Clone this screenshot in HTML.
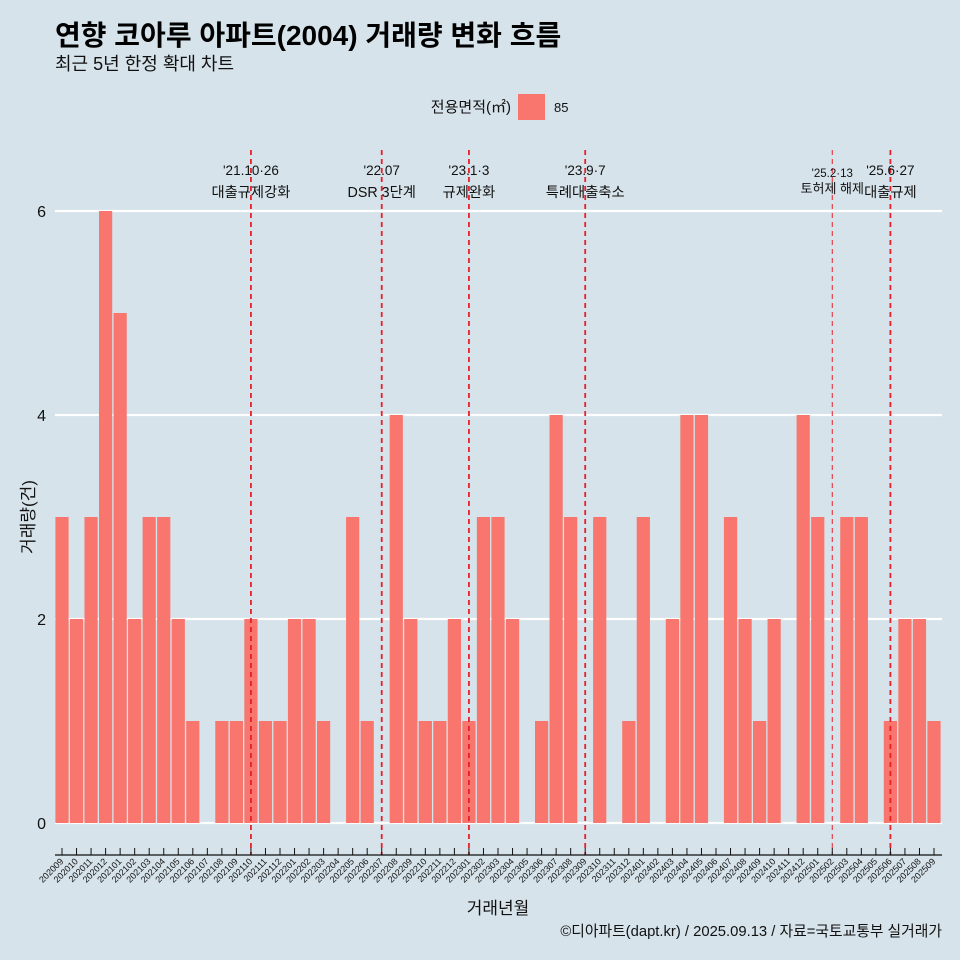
<!DOCTYPE html>
<html><head><meta charset="utf-8">
<style>
body{margin:0;background:#d6e3ea;}
svg{display:block;font-family:"Liberation Sans","Noto Sans CJK KR",sans-serif;}
</style></head>
<body>
<svg id="chart" width="960" height="960" viewBox="0 0 960 960">
<rect width="960" height="960" fill="#d6e3ea"/>
<text x="55" y="45" font-size="28" font-weight="bold" fill="#000">연향 코아루 아파트(2004) 거래량 변화 흐름</text>
<text x="55" y="70" font-size="18" fill="#111">최근 5년 한정 확대 차트</text>
<g>
<text x="511" y="112" font-size="15" text-anchor="end" fill="#111">전용면적(㎡)</text>
<rect x="518" y="94" width="27" height="26" fill="#f8766d"/>
<text x="554" y="112" font-size="13" fill="#111">85</text>
</g>
<g id="grid"></g><g id="bars"></g><g id="events"></g><g id="axes"></g>
<text x="34" y="517" font-size="17" fill="#111" text-anchor="middle" transform="rotate(-90 34 517)">거래량(건)</text>
<text x="498" y="914" font-size="17" fill="#111" text-anchor="middle">거래년월</text>
<text x="942" y="936" font-size="14.8" fill="#111" text-anchor="end">©디아파트(dapt.kr) / 2025.09.13 / 자료=국토교통부 실거래가</text>
</svg>
<script>
const months=["202009","202010","202011","202012","202101","202102","202103","202104","202105","202106","202107","202108","202109","202110","202111","202112","202201","202202","202203","202204","202205","202206","202207","202208","202209","202210","202211","202212","202301","202302","202303","202304","202305","202306","202307","202308","202309","202310","202311","202312","202401","202402","202403","202404","202405","202406","202407","202408","202409","202410","202411","202412","202501","202502","202503","202504","202505","202506","202507","202508","202509"];
const counts=[3,2,3,6,5,2,3,3,2,1,0,1,1,2,1,1,2,2,1,0,3,1,0,4,2,1,1,2,1,3,3,2,0,1,4,3,0,3,0,1,3,0,2,4,4,0,3,2,1,2,0,4,3,0,3,3,0,1,2,2,1];
const yTicks=[0,2,4,6];
const eventMonths=["202110","202207","202301","202309","202502","202506"];
const eventDates=["'21.10·26","'22.07","'23.1·3","'23.9·7","'25.2·13","'25.6·27"];
const eventLabels=["대출규제강화","DSR 3단계","규제완화","특례대출축소","토허제 해제","대출규제"];

const NS="http://www.w3.org/2000/svg";
const x0=62,step=(934-62)/60,bw=13.2;
const xs=i=>x0+i*step;
const ys=v=>823-v*102;
function mk(t,a,p){const e=document.createElementNS(NS,t);for(const k in a)e.setAttribute(k,a[k]);p.appendChild(e);return e;}
const grid=document.getElementById('grid'),bars=document.getElementById('bars'),ev=document.getElementById('events'),ax=document.getElementById('axes');
yTicks.forEach(v=>{
 const l=mk('line',{x1:55,x2:942,y1:ys(v),y2:ys(v),stroke:'#fff','stroke-width':2.2},grid);
 
 
 const t=mk('text',{x:46,y:ys(v)+6,'font-size':16,'text-anchor':'end',fill:'#111'},ax);t.textContent=v;
 
 
});
counts.forEach((v,i)=>{
 if(v<=0)return;
 const r=mk('rect',{x:xs(i)-bw/2,y:ys(v),width:bw,height:ys(0)-ys(v),fill:'#f8766d'},bars);
 
 
});
mk('line',{x1:55,x2:942,y1:855,y2:855,stroke:'#111','stroke-width':1.2},ax);
months.forEach((m,i)=>{
 const x=xs(i);
 mk('line',{x1:x,x2:x,y1:848,y2:855,stroke:'#111','stroke-width':1},ax);
 const t=mk('text',{x:x+2,y:862,'font-size':9,'text-anchor':'end',fill:'#111',transform:`rotate(-45 ${x+2} 862)`},ax);
 t.textContent=m;
 
 
});
eventMonths.forEach((m,k)=>{
 const i=months.indexOf(m),x=xs(i);
 const thin=m==="202502";
 const l=mk('line',{x1:x,x2:x,y1:150,y2:855,stroke:'#e8202a','stroke-width':thin?1:1.8,'stroke-dasharray':'5,4'},ev);
 
 
 const t1=mk('text',{x:x,y:thin?177:175,'font-size':thin?11.5:13.5,'text-anchor':'middle',fill:'#111'},ev);t1.textContent=eventDates[k];
 
 
 const t2=mk('text',{x:x,y:thin?193:197,'font-size':thin?13:14.3,'text-anchor':'middle',fill:'#111'},ev);t2.textContent=eventLabels[k];
 
 
});
</script>
</body></html>
